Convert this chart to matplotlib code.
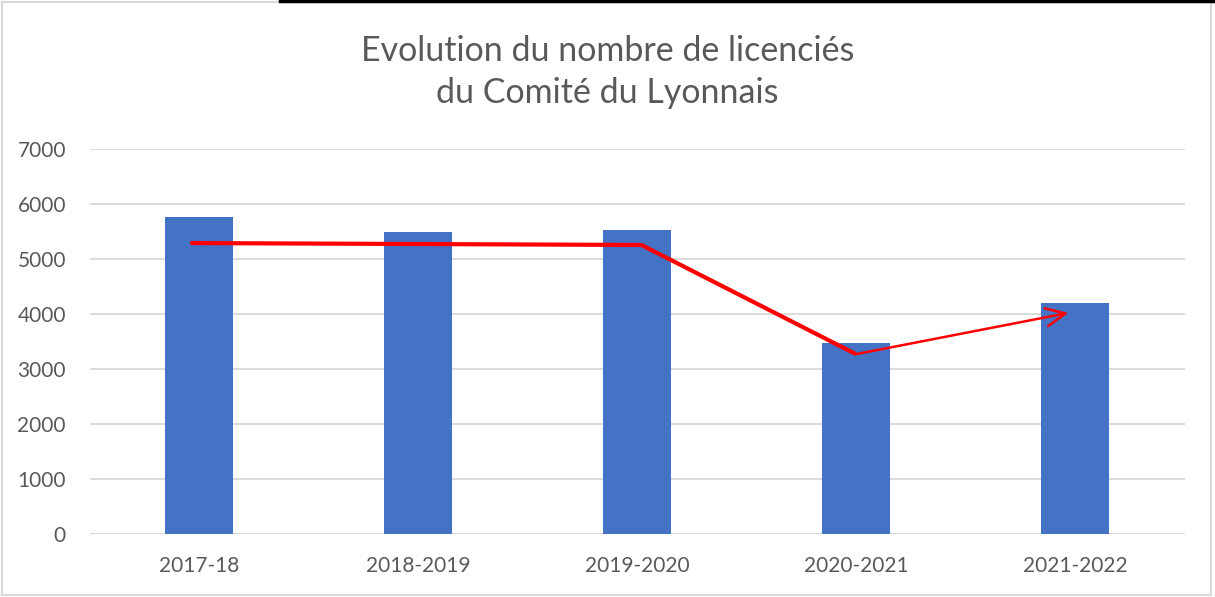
import numpy as np
import matplotlib
matplotlib.use("Agg")
import matplotlib.pyplot as plt
from matplotlib.patches import Rectangle
from matplotlib.lines import Line2D

saisons = ["2017-18", "2018-2019", "2019-2020", "2020-2021", "2021-2022"]
licencies = [5760, 5490, 5525, 3475, 4200]

# trait rouge (tendance dessinée a la main)
trend_x = [-0.04, 2.02, 3.0]
trend_y = [5290, 5255, 3270]
arrow_end = (3.97, 4020)

plt.rcParams['font.family'] = ['Lato', 'DejaVu Sans']

fig = plt.figure(figsize=(12.15, 5.97), dpi=100)
ax = fig.add_axes([89.5/1215, 1 - 534/597, (1184.5-89.5)/1215, (534-149)/597])

x = np.arange(len(saisons))
ax.bar(x, licencies, width=0.31, color="#4472c4", zorder=2)

ax.plot(trend_x, trend_y, color="red", lw=3, zorder=3, solid_capstyle="butt")
ax.annotate("", xy=arrow_end, xytext=(trend_x[-1], trend_y[-1]),
            arrowprops=dict(arrowstyle="->,head_length=1.4,head_width=0.65", color="red", lw=1.8,
                            shrinkA=0, shrinkB=0), zorder=3)

ax.set_xlim(-0.5, len(saisons) - 0.5)
ax.set_ylim(0, 7000)
ax.set_yticks(range(0, 7001, 1000))
ax.set_xticks(x)
ax.set_xticklabels(saisons)
ax.grid(axis="y", color="#d9d9d9", lw=1.3, zorder=0)
for s in ax.spines.values():
    s.set_visible(False)
ax.tick_params(length=0, labelsize=15, colors="#595959")
ax.tick_params(axis="y", pad=17)
ax.tick_params(axis="x", pad=16)
ax.axhline(0, color="#d9d9d9", lw=1.3, zorder=1)

fig.text(0.5, 1 - 72/597, "Evolution du nombre de licenciés\ndu Comité du Lyonnais",
         ha="center", va="center", fontsize=24.5, color="#595959", linespacing=1.35)

# cadre du graphique
fig.patches.append(Rectangle((2/1215, 2/597), 1209/1215, 593/597, transform=fig.transFigure,
                             fill=False, edgecolor="#d9d9d9", lw=1.5))
fig.lines.append(Line2D([280/1215, 1], [1 - 1/597, 1 - 1/597], transform=fig.transFigure,
                        color="black", lw=2.5))

fig.savefig("out.png", dpi=100)
